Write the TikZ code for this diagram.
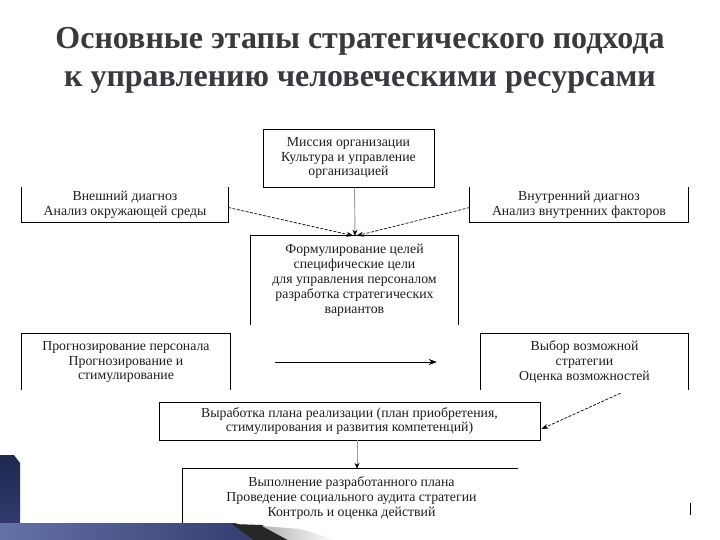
\documentclass[tikz,border=0pt]{standalone}
\usepackage{fontspec}
\setmainfont{Liberation Serif}
\usepackage{xcolor}
\usetikzlibrary{positioning,calc,arrows.meta}
\definecolor{titlecol}{HTML}{3A3A3E}
\definecolor{textcol}{HTML}{1E1E1E}
\definecolor{stem}{HTML}{9C9C9C}
\definecolor{navy}{HTML}{1F2850}
\definecolor{bandblue}{HTML}{6472A8}
\definecolor{banddark}{HTML}{343C70}

\begin{document}
\begin{tikzpicture}[x=1pt,y=-1pt,
    stage/.style={inner sep=0pt,align=center,text=textcol,font=\fontsize{13.8}{14.9}\selectfont},
    frame/.style={draw=black,line width=0.8pt},
    stemline/.style={draw=stem,line width=0.9pt,-{Stealth[color=black,length=6pt,width=5pt]}},
    dashflow/.style={draw=black,dashed,dash pattern=on 3pt off 1.5pt,line width=0.7pt,-{Stealth[length=7pt,width=5pt]}},
    solidflow/.style={draw=black,line width=0.9pt,-{Stealth[length=8pt,width=6pt]}},
    title/.style={align=center,text=titlecol,font=\fontsize{32}{38}\selectfont\bfseries}
]
\useasboundingbox (0,0) rectangle (720,540);
\fill[white] (0,0) rectangle (720,540);
\node[title] (head) at (360,60) {Основные этапы стратегического подхода\\к управлению человеческими ресурсами};
% stages
\node[stage,frame,minimum width=171pt,minimum height=58pt] (mission) at (348.5,158) {Миссия организации\\Культура и управление\\организацией};
\node[stage,minimum width=206pt,minimum height=35pt] (extdiag) at (125,204.5) {Внешний диагноз\\Анализ окружающей среды};
\node[stage,minimum width=218pt,minimum height=35pt] (intdiag) at (579,204.5) {Внутренний диагноз\\Анализ внутренних факторов};
\node[stage,minimum width=207pt,minimum height=89pt] (goals) at (354.5,280.5) {Формулирование целей\\специфические цели\\для управления персоналом\\разработка стратегических\\вариантов};
\node[stage,minimum width=208pt,minimum height=56pt] (forecast) at (126,362) {Прогнозирование персонала\\Прогнозирование и\\стимулирование};
\node[stage,minimum width=207pt,minimum height=56pt] (choice) at (584.5,362) {Выбор возможной\\стратегии\\Оценка возможностей};
\node[stage,frame,minimum width=381pt,minimum height=38pt] (plan) at (349.5,421) {Выработка плана реализации (план приобретения,\\стимулирования и развития компетенций)};
\node[stage,minimum width=337pt,minimum height=58pt] (exec) at (351.5,498) {Выполнение разработанного плана\\Проведение социального аудита стратегии\\Контроль и оценка действий};
% open frames
\draw[frame] (extdiag.north west) -- (extdiag.south west) -- (extdiag.south east) -- (extdiag.north east);
\draw[frame] (intdiag.north west) -- (intdiag.south west) -- (intdiag.south east) -- (intdiag.north east);
\draw[frame] (goals.south west) -- (goals.north west) -- (goals.north east) -- (goals.south east);
\draw[frame] (forecast.south west) -- (forecast.north west) -- (forecast.north east) -- (forecast.south east);
\draw[frame] (choice.south west) -- (choice.north west) -- (choice.north east) -- (choice.south east);
\draw[frame] (exec.south west) -- (exec.north west) -- ([xshift=-2pt]exec.north east);
% flows
\draw[stemline] ([xshift=6pt]mission.south) -- ([xshift=0.5pt]goals.north);
\draw[dashflow] ([yshift=-3pt]extdiag.east) -- ([xshift=-1pt]goals.north);
\draw[dashflow] ([yshift=-3pt]intdiag.west) -- ([xshift=2pt]goals.north);
\draw[solidflow,shorten <=45pt,shorten >=44pt] (forecast.east) -- (choice.west);
\draw[dashflow] ([xshift=36pt,yshift=-3pt]choice.south) -- ([xshift=1pt,yshift=-8pt]plan.east);
\draw[stemline] ([xshift=7.5pt]plan.south) -- ([xshift=5.5pt]exec.north);
\draw[black,line width=0.8pt] (690,503) -- (690,515);
% corner decoration
\shade[top color=navy,bottom color=banddark] (0,455) -- (14,455) -- (20,463) -- (20,530) -- (0,530) -- cycle;
\shade[left color=bandblue,right color=banddark] (0,523) -- (236,523) -- (256,540) -- (0,540) -- cycle;
\fill[black!85] (232,524) -- (262,525) -- (290,540) -- (254,540) -- cycle;
\shade[left color=black!30,right color=white] (262,526) -- (300,529) -- (336,540) -- (288,540) -- cycle;
\end{tikzpicture}
\end{document}
